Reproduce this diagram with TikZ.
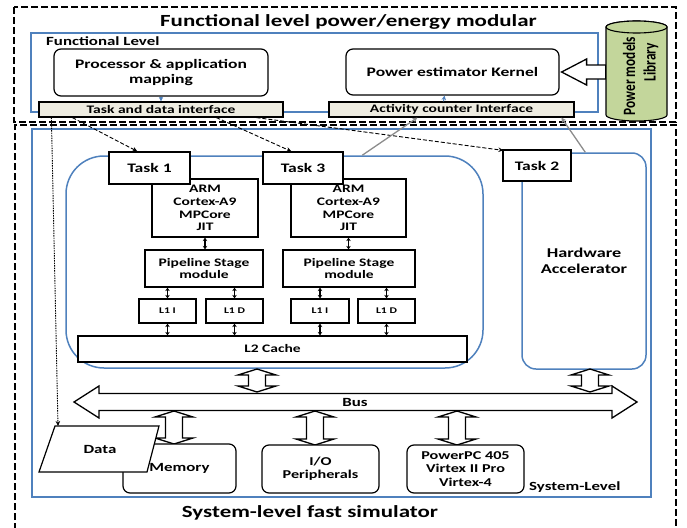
\documentclass[tikz,border=0pt]{standalone}
\usepackage{graphicx}
\usepackage{fontspec}
\setmainfont{Carlito}[FakeStretch=1.35]
\newfontfamily\plainfont{Carlito}
\usetikzlibrary{arrows.meta,calc}
\definecolor{fblue}{HTML}{4F81BD}
\definecolor{beige}{HTML}{EEECE1}
\definecolor{cylgreen}{HTML}{C3D69B}
\definecolor{grayline}{HTML}{8C8C8C}
\newcommand\fsz[2]{\fontsize{#1}{#2}\selectfont\bfseries}
\newcommand\fatv[2]{%
 \draw[fat] let \p1=(#1), \p2=(#2) in (\x1,\y1) -- (\x1+19pt,\y1-6pt) -- (\x1+8.5pt,\y1-6pt) -- (\x1+8.5pt,\y2+6pt) -- (\x1+19pt,\y2+6pt) -- (\x1,\y2) -- (\x1-19pt,\y2+6pt) -- (\x1-8.5pt,\y2+6pt) -- (\x1-8.5pt,\y1-6pt) -- (\x1-19pt,\y1-6pt) -- cycle;}
\begin{document}
\begin{tikzpicture}[x=1pt,y=-1pt,
  box/.style={draw=black, line width=1.2pt, fill=white, inner sep=0pt, align=center},
  rbox/.style={box, rounded corners=7pt},
  lbl/.style={inner sep=0pt, align=center},
  dashbox/.style={draw=black, line width=1.5pt, dash pattern=on 7pt off 3pt},
  blueframe/.style={draw=fblue, line width=1.6pt},
  bluearrow/.style={draw=fblue, line width=1.1pt, -{Stealth[length=4.5pt,width=4.5pt]}},
  sarrow/.style={draw=black, line width=1.2pt, {Stealth[length=3.5pt,width=4.5pt]}-{Stealth[length=3.5pt,width=4.5pt]}},
  dasharrow/.style={draw=black, line width=0.9pt, dash pattern=on 4pt off 2pt, -{Stealth[length=5pt,width=4.5pt]}},
  dotarrow/.style={draw=black, line width=0.9pt, dash pattern=on 1.5pt off 1pt, -{Stealth[length=5pt,width=4.5pt]}},
  grayarrow/.style={draw=grayline, line width=1.3pt, -{Stealth[length=5pt,width=5pt]}},
  fat/.style={draw=black, fill=white, line width=1.3pt, line join=miter}
]
\useasboundingbox (0,0) rectangle (687,527);
\clip (0,0) rectangle (687,527);

% outer frames
\draw[dashbox] (14,7) rectangle (676,122);
\draw[dashbox] (15,530) -- (15,125) -- (676,125) -- (676,530);
\draw[blueframe] (31,33) rectangle (598,112);
\draw[blueframe] (32,129) rectangle (651,497);

% ---------- functional level ----------
\node[lbl, font=\fsz{17}{20}] (ttop) at (348.5,22) {Functional level power/energy modular};
\node[lbl, anchor=west, font=\fsz{12.5}{14}] (flabel) at (46,41) {Functional Level};
\node[rbox, minimum width=214pt, minimum height=47pt, font=\fsz{13}{14.5}] (proc) at (161,72.5) {Processor \& application\\mapping};
\node[rbox, minimum width=213pt, minimum height=46pt, font=\fsz{13}{14.5}] (kern) at (452.5,72) {Power estimator Kernel};
\node[box, fill=beige, minimum width=244pt, minimum height=15pt, font=\fsz{11.5}{13}] (taskif) at (161,109.5) {Task and data interface};
\node[box, fill=beige, minimum width=245pt, minimum height=15pt, font=\fsz{11.5}{13}] (actif) at (451.5,109.5) {Activity counter Interface};

\draw[bluearrow] (proc.south) -- (taskif.north);
\draw[bluearrow] ([xshift=-8pt]actif.north) -- ([xshift=-8pt]kern.south);

% cylinder
\node[inner sep=0pt, minimum width=61pt, minimum height=100pt] (cyl) at (636.5,71) {};
\draw[fat] let \p1=([xshift=2pt]kern.east), \p2=(cyl.west) in
  (\x1,\y1) -- (\x1+25pt,\y1+13pt) -- (\x1+25pt,\y1+7pt) -- (\x2,\y1+7pt) -- (\x2,\y1-7pt) -- (\x1+25pt,\y1-7pt) -- (\x1+25pt,\y1-13pt) -- cycle;
\draw[draw=black, line width=1.1pt, fill=cylgreen] (606,27) -- (606,115) arc (180:0:30.5 and 6) -- (667,27) arc (0:-180:30.5 and 6) -- cycle;
\draw[draw=black, line width=1.1pt, fill=cylgreen] (636.5,27) ellipse (30.5 and 6);
\node[lbl, rotate=90, font=\plainfont\fontsize{13.3}{15}\selectfont\bfseries] (pm) at (629,76) {\scalebox{1}[1.3]{Power models}};
\node[lbl, rotate=90, font=\plainfont\fontsize{13.3}{15}\selectfont\bfseries] (lib) at (651,62) {\scalebox{1}[1.3]{Library}};

% ---------- system level ----------
\node[draw=fblue, line width=1.5pt, rounded corners=38pt, minimum width=417pt, minimum height=212pt, inner sep=0pt] (cluster) at (274.5,262) {};
\node[draw=fblue, line width=1.5pt, rounded corners=14pt, minimum width=124pt, minimum height=216pt, inner sep=0pt, align=center, font=\fsz{13.5}{16}] (hw) at (584,261) {Hardware\\Accelerator};

\node[box, minimum width=106pt, minimum height=58pt, font=\fsz{11.5}{12.7}] (arm1) at (205,208) {ARM\\Cortex-A9\\MPCore\\JIT};
\node[box, minimum width=115pt, minimum height=58pt, font=\fsz{11.5}{12.7}] (arm2) at (348.5,208) {ARM\\Cortex-A9\\MPCore\\JIT};
\node[box, minimum width=81pt, minimum height=32pt, font=\fsz{13}{15}] (task1) at (149.5,168) {Task 1};
\node[box, minimum width=80pt, minimum height=32pt, font=\fsz{13}{15}] (task3) at (303,168) {Task 3};
\node[box, minimum width=68pt, minimum height=31pt, font=\fsz{13}{15}] (task2) at (537,165.5) {Task 2};
\node[box, minimum width=118pt, minimum height=37pt, font=\fsz{11.5}{12}] (pipe1) at (204,268.5) {Pipeline Stage\\module};
\node[box, minimum width=132pt, minimum height=37pt, font=\fsz{11.5}{12}] (pipe2) at (349,268.5) {Pipeline Stage\\module};
\node[box, minimum width=57pt, minimum height=24pt, font=\fsz{8.7}{10}] (l1i1) at (167.5,311) {L1 I};
\node[box, minimum width=57pt, minimum height=24pt, font=\fsz{8.7}{10}] (l1d1) at (234.5,311) {L1 D};
\node[box, minimum width=58pt, minimum height=24pt, font=\fsz{8.7}{10}] (l1i2) at (320,311) {L1 I};
\node[box, minimum width=57pt, minimum height=24pt, font=\fsz{8.7}{10}] (l1d2) at (386.5,311) {L1 D};
\node[box, minimum width=389pt, minimum height=26pt, font=\fsz{11.5}{13}] (l2) at (272.5,349) {L2 Cache};

\draw[sarrow] (arm1.south) -- (arm1.south |- pipe1.north);
\draw[sarrow] (arm2.south) -- (arm2.south |- pipe2.north);
\foreach \n/\p in {l1i1/pipe1, l1d1/pipe1, l1i2/pipe2, l1d2/pipe2}{
  \draw[sarrow] (\n.north |- \p.south) -- (\n.north);
  \draw[sarrow] (\n.south) -- (\n.south |- l2.north);
}

% connectors from the interfaces
\coordinate (dtop) at (58,426);
\draw[dotarrow] ([xshift=13pt]taskif.south west) -- (dtop);
\draw[dasharrow] ([xshift=34pt]taskif.south west) -- ([xshift=29pt]task1.north west);
\draw[dasharrow] ([xshift=178pt]taskif.south west) -- ([xshift=29pt]task3.north west);
\draw[dasharrow] ([xshift=218pt]taskif.south west) -- ([xshift=1pt,yshift=-1pt]task2.north west);
\draw[grayarrow] ([xshift=297pt]cluster.north west) -- ([xshift=89pt]actif.south west);
\draw[grayarrow] ([xshift=64pt]hw.north west) -- ([xshift=233pt]actif.south west);

% bus
\coordinate (busl) at (74,402);
\coordinate (busr) at (637,402);
\draw[fat] let \p1=(busl), \p2=(busr) in
  (\x1,\y1) -- (\x1+25pt,\y1+16pt) -- (\x1+25pt,\y1+8.5pt) -- (\x2-25pt,\y1+8.5pt) -- (\x2-25pt,\y1+16pt) -- (\x2,\y1) -- (\x2-25pt,\y1-16pt) -- (\x2-25pt,\y1-8.5pt) -- (\x1+25pt,\y1-8.5pt) -- (\x1+25pt,\y1-16pt) -- cycle;
\node[lbl, font=\fsz{12.5}{14}] (bus) at (355,402) {Bus};

\coordinate (a1t) at (257,369); \coordinate (a1b) at (257,392);
\coordinate (a2t) at (590,369); \coordinate (a2b) at (590,392);
\coordinate (a3t) at (174,411); \coordinate (a3b) at (174,444);
\coordinate (a4t) at (315,411); \coordinate (a4b) at (315,445);
\coordinate (a5t) at (457,411); \coordinate (a5b) at (457,445);
\fatv{a1t}{a1b}
\fatv{a2t}{a2b}
\fatv{a3t}{a3b}
\fatv{a4t}{a4b}
\fatv{a5t}{a5b}

\node[rbox, minimum width=113pt, minimum height=49pt, font=\fsz{12.5}{14}] (mem) at (179.5,468.5) {Memory};
\node[rbox, minimum width=117pt, minimum height=48pt, font=\fsz{12}{13.3}] (io) at (320.5,469) {I/O\\Peripherals};
\node[rbox, minimum width=117pt, minimum height=48pt, font=\fsz{12}{13.5}] (ppc) at (465.5,469) {PowerPC 405\\Virtex II Pro\\Virtex-4};

\draw[draw=black, line width=1.2pt, fill=white, line join=miter] (55,426) -- (159,426) -- (147,472) -- (39,472) -- cycle;
\node[lbl, font=\fsz{12.5}{14}] (data) at (100,449) {Data};

\node[lbl, anchor=west, font=\fsz{12.5}{14}] (slabel) at (529,487) {System-Level};
\node[lbl, font=\fsz{17}{20}] (tbot) at (310,513) {System-level fast simulator};
\end{tikzpicture}
\end{document}
